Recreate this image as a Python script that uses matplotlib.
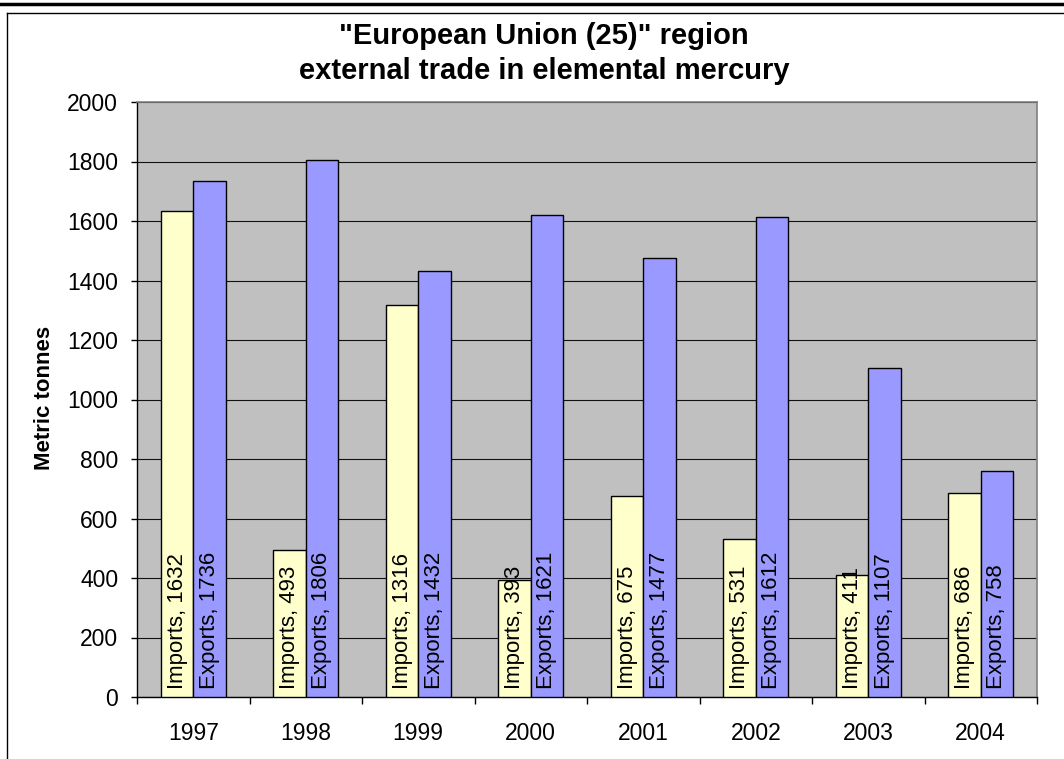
import matplotlib
matplotlib.use('Agg')
import matplotlib.pyplot as plt
from matplotlib.lines import Line2D
import numpy as np

plt.rcParams['font.family'] = ['Liberation Sans', 'DejaVu Sans']

years = ['1997', '1998', '1999', '2000', '2001', '2002', '2003', '2004']
imports = [1632, 493, 1316, 393, 675, 531, 411, 686]
exports = [1736, 1806, 1432, 1621, 1477, 1612, 1107, 758]
yticks = [0, 200, 400, 600, 800, 1000, 1200, 1400, 1600, 1800, 2000]

W, H = 1064, 759
fig = plt.figure(figsize=(W/100, H/100), dpi=100)
ax = fig.add_axes([137/W, 1-697/H, 900/W, 595/H])
ax.set_facecolor('#C0C0C0')

x = np.arange(len(years))
bw = 0.287
ax.bar(x-bw/2, imports, bw, color='#FFFFCC', edgecolor='black', linewidth=1.0, zorder=3)
ax.bar(x+bw/2, exports, bw, color='#9999FF', edgecolor='black', linewidth=1.0, zorder=3)

# labels inside bars, from the base up
for i in range(len(years)):
    ax.annotate('Imports, '+str(imports[i]), xy=(x[i]-bw/2, 0), xytext=(0, 5.5), textcoords='offset points',
                rotation=90, ha='center', va='bottom', fontsize=16, zorder=4)
    ax.annotate('Exports, '+str(exports[i]), xy=(x[i]+bw/2, 0), xytext=(0, 5.5), textcoords='offset points',
                rotation=90, ha='center', va='bottom', fontsize=16, zorder=4)

ax.set_xlim(-0.5, len(years)-0.5)
ax.set_ylim(0, 2000)
ax.set_yticks(yticks)
ax.set_yticklabels([str(v) for v in yticks], fontsize=16.5)
ax.set_xticks(x)
ax.set_xticklabels(years, fontsize=16.5)
ax.set_xticks(np.arange(-0.5, len(years)), minor=True)
ax.tick_params(axis='x', which='major', length=0, pad=18)
ax.tick_params(axis='x', which='minor', length=5, width=1, direction='out')
ax.tick_params(axis='y', length=4.5, width=1, pad=9, direction='out')
ax.yaxis.grid(True, color='#111111', linewidth=0.8, zorder=1)
ax.set_axisbelow(True)

for s in ['top', 'right']:
    ax.spines[s].set_color('#808080')
    ax.spines[s].set_linewidth(1.2)
for s in ['left', 'bottom']:
    ax.spines[s].set_color('black')
    ax.spines[s].set_linewidth(1.0)

fig.text(544/W, 1-22/H, '"European Union (25)" region\nexternal trade in elemental mercury',
         ha='center', va='top', fontsize=21, fontweight='bold', linespacing=1.3)
fig.text(45/W, 1-398/H, 'Metric tonnes', rotation=90, ha='center', va='center',
         fontsize=16, fontweight='bold')

# outer frame lines
fig.add_artist(Line2D([0, 1], [1-3.5/H, 1-3.5/H], color='black', linewidth=2.5, transform=fig.transFigure))
fig.add_artist(Line2D([7/W, 1], [1-12.5/H, 1-12.5/H], color='black', linewidth=1.0, transform=fig.transFigure))
fig.add_artist(Line2D([7/W, 7/W], [1-12.5/H, 0], color='black', linewidth=1.0, transform=fig.transFigure))

fig.savefig('out.png', dpi=100)
